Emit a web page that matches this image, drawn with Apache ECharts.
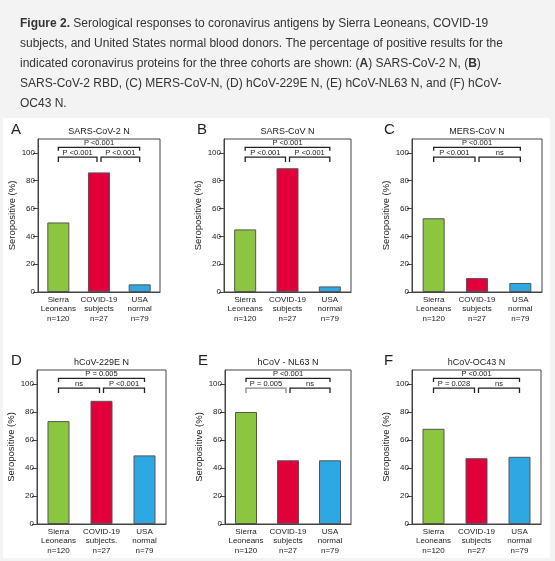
<!DOCTYPE html>
<html>
<head>
<meta charset="utf-8">
<script src="https://cdn.jsdelivr.net/npm/echarts@6/dist/echarts.min.js"></script>
<style>
  html,body{margin:0;padding:0;background:#f3f3f3;}
  #fig{width:555px;height:561px;}
</style>
</head>
<body>
<div id="fig"></div>
<script>
// cohorts on the x axis
var cohorts = ['Sierra\nLeoneans\nn=120', 'COVID-19\nsubjects\nn=27', 'USA\nnormal\nn=79'];
var cohortsD = ['Sierra\nLeoneans\nn=120', 'COVID-19\nsubjects.\nn=27', 'USA\nnormal\nn=79'];

// panel letters and antigen names
var letters = ['A', 'B', 'C', 'D', 'E', 'F'];
var antigens = ['SARS-CoV-2 N', 'SARS-CoV N', 'MERS-CoV N', 'hCoV-229E N', 'hCoV - NL63 N', 'hCoV-OC43 N'];

// % seropositive (Sierra Leone, COVID-19, USA)
var sarsCov2N = [50, 86, 5.5];
var sarsCovN  = [45, 89, 4];
var mersCovN  = [53, 10, 6.5];
var hcov229eN = [73.5, 88, 49];
var hcovNl63N = [80, 45.5, 45.5];
var hcovOc43N = [68, 47, 48];

// p values: top = SL vs USA, left = SL vs COVID, right = COVID vs USA
var pTop   = ['P <0.001', 'P <0.001', 'P <0.001', 'P = 0.005', 'P <0.001', 'P <0.001'];
var pLeft  = ['P <0.001', 'P <0.001', 'P <0.001', 'ns', 'P = 0.005', 'P = 0.028'];
var pRight = ['P <0.001', 'P <0.001', 'ns', 'P <0.001', 'ns', 'ns'];

var yTicks = [0, 20, 40, 60, 80, 100];

var panelData = [sarsCov2N, sarsCovN, mersCovN, hcov229eN, hcovNl63N, hcovOc43N];
var barColors = ['#8cc63f', '#e2003b', '#2ea8e2'];
var FONT = 'Liberation Sans';

// grid boxes [left, top, width, height]
var boxes = [
  [38, 139, 122, 153],
  [224, 139, 127, 153],
  [412, 139, 130, 153],
  [37, 370, 129, 154],
  [225, 370, 126, 154],
  [412, 370, 129, 154]
];

var myChart = echarts.init(document.getElementById('fig'), null, {renderer: 'canvas'});

var grids = [], xAxes = [], yAxes = [], series = [], graphics = [];

// white figure panel
graphics.push({type: 'rect', shape: {x: 3, y: 118, width: 547, height: 440}, style: {fill: '#ffffff'}, z: -10});

// caption
var captionLines = [
  ' Serological responses to coronavirus antigens by Sierra Leoneans, COVID-19',
  'subjects, and United States normal blood donors. The percentage of positive results for the',
  'indicated coronavirus proteins for the three cohorts are shown: ({b|A}) SARS-CoV-2 N, ({b|B})',
  'SARS-CoV-2 RBD, (C) MERS-CoV-N, (D) hCoV-229E N, (E) hCoV-NL63 N, and (F) hCoV-',
  'OC43 N.'
];

for (var i = 0; i < 6; i++) {
  var b = boxes[i];
  grids.push({left: b[0], top: b[1], width: b[2], height: b[3],
    show: true, borderColor: '#444', borderWidth: 1, backgroundColor: '#fff'});
  xAxes.push({
    type: 'category', gridIndex: i, data: i == 3 ? cohortsD : cohorts,
    axisTick: {show: false},
    axisLine: {lineStyle: {color: '#444', width: 1}},
    axisLabel: {color: '#222', fontSize: 8, lineHeight: 9.5, margin: 3, fontFamily: FONT, interval: 0}
  });
  yAxes.push({
    type: 'value', gridIndex: i, min: 0, max: 110,
    splitLine: {show: false},
    axisLine: {show: true, lineStyle: {color: '#444'}},
    axisTick: {show: true, length: 5, customValues: yTicks, lineStyle: {color: '#444'}},
    axisLabel: {customValues: yTicks, color: '#222', fontSize: 8, margin: 3, fontFamily: FONT},
    name: 'Seropositive (%)', nameLocation: 'middle', nameGap: 20,
    nameTextStyle: {color: '#222', fontSize: 9.5, fontFamily: FONT}
  });
  series.push({
    type: 'bar', xAxisIndex: i, yAxisIndex: i, barWidth: 22,
    data: panelData[i].map(function (v, k) {
      return {value: v, itemStyle: {color: barColors[k]}};
    }),
    itemStyle: {borderColor: '#555', borderWidth: 1},
    silent: true
  });
  // significance brackets
  series.push({
    type: 'custom', xAxisIndex: i, yAxisIndex: i, clip: false, silent: true,
    data: [[0, 100, pTop[i]], [0, 100, pLeft[i]], [1, 100, pRight[i]]],
    renderItem: (function (panel) {
      return function (params, api) {
        var k = params.dataIndex;
        var from = [0, 0, 1][k], to = [2, 1, 2][k];
        var level = k == 0 ? 104 : 97;
        var leg = k == 0 ? 101.5 : 93.5;
        var dx0 = k == 2 ? 2 : 0, dx1 = k == 1 ? -2 : 0;
        var a = api.coord([from, level]), c = api.coord([to, level]);
        var la = api.coord([from, leg]);
        var x0 = a[0] + dx0, x1 = c[0] + dx1;
        var col = (panel == 4 && k == 1) ? '#888' : '#222';
        return {
          type: 'group',
          children: [{
            type: 'polyline',
            shape: {points: [[x0, la[1]], [x0, a[1]], [x1, a[1]], [x1, la[1]]]},
            style: {stroke: col, lineWidth: 1.3, fill: null}
          }, {
            type: 'text',
            style: {x: (x0 + x1) / 2, y: a[1] - 0.5, text: api.value(2), textAlign: 'center',
              textVerticalAlign: 'bottom', fontSize: 7.5, fill: '#222', fontFamily: FONT}
          }]
        };
      };
    })(i)
  });
  // panel letter and antigen title
  graphics.push({type: 'text', style: {x: [11, 197, 384, 11, 198, 384][i], y: b[1] - 9,
    text: letters[i], fontSize: 15, fill: '#222', fontFamily: FONT, textVerticalAlign: 'middle'}});
  graphics.push({type: 'text', style: {x: b[0] + b[2] / 2, y: b[1] - 7,
    text: antigens[i], fontSize: 9, fill: '#222', fontFamily: FONT,
    textAlign: 'center', textVerticalAlign: 'middle'}});
}

var option = {
  backgroundColor: '#f3f3f3',
  animation: false,
  title: {
    text: '{b|Figure 2.}' + captionLines.join('\n'),
    left: 15, top: 9,
    textStyle: {
      fontFamily: FONT, fontSize: 12, fontWeight: 'normal', color: '#333', lineHeight: 20,
      rich: {b: {fontFamily: FONT, fontSize: 12, fontWeight: 'bold', color: '#333', lineHeight: 20}}
    }
  },
  grid: grids,
  xAxis: xAxes,
  yAxis: yAxes,
  series: series,
  graphic: graphics
};

myChart.setOption(option);
</script>
</body>
</html>
